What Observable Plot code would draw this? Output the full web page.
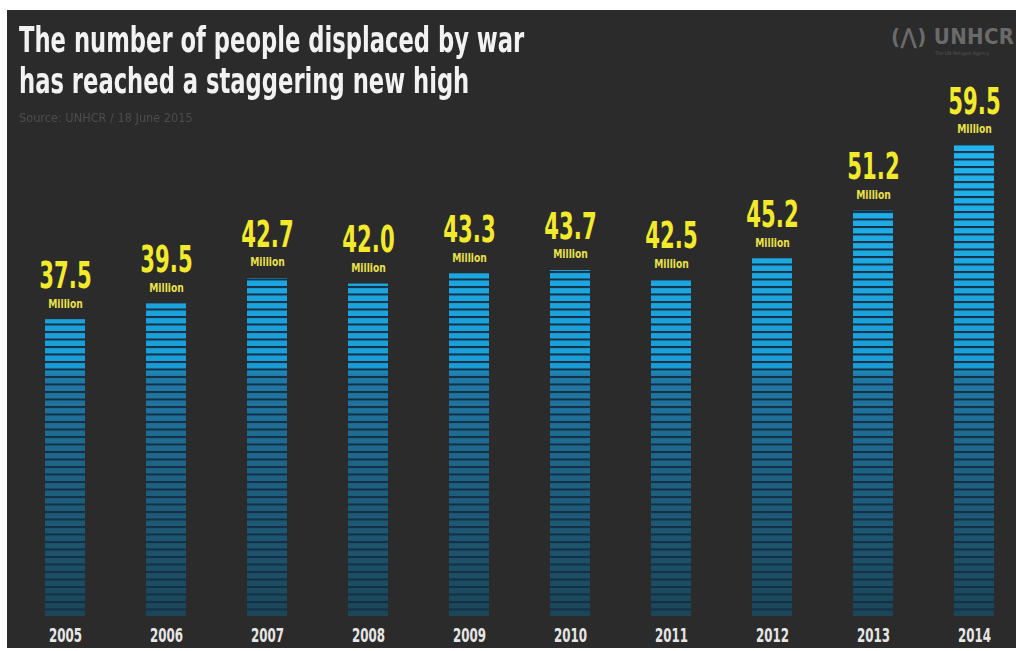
<!DOCTYPE html>
<html>
<head>
<meta charset="utf-8">
<script src="https://cdn.jsdelivr.net/npm/d3@7"></script>
<script src="https://cdn.jsdelivr.net/npm/@observablehq/plot@0.6"></script>
<style>
  html, body { margin: 0; padding: 0; background: #ffffff; }
  #frame {
    position: absolute; left: 7px; top: 10px; width: 1009px; height: 638px;
    background: #2b2b2b; overflow: hidden;
    font-family: "DejaVu Sans Condensed", "DejaVu Sans", sans-serif;
  }
  #title {
    position: absolute; left: 12px; top: 10px; margin: 0;
    color: #f2f2f2; font-size: 35px; font-weight: bold;
    transform: scaleX(0.72); transform-origin: 0 0; white-space: nowrap;
  }
  #title div { height: 41px; line-height: 41px; overflow: visible; }
  #source {
    position: absolute; left: 12px; top: 100px; color: #4d4d4d; font-size: 13px;
    transform: scaleX(0.97); transform-origin: 0 0; white-space: nowrap;
  }
  #logo {
    position: absolute; left: 884px; top: 14px; color: #6a6a6a; white-space: nowrap;
  }
  #logo .mark { font-size: 22px; font-weight: bold; letter-spacing: 0.3px; line-height: 26px; }
  #logo .sub { font-size: 5px; margin-left: 44px; color: #555; line-height: 6px; }
  #chart { position: absolute; left: 0; top: 0; }
</style>
</head>
<body>
<div id="frame">
  <div id="chart"></div>
  <div id="title"><div>The number of people displaced by war</div><div>has reached a staggering new high</div></div>
  <div id="source">Source: UNHCR / 18 June 2015</div>
  <div id="logo"><div class="mark">(⋀) UNHCR</div><div class="sub">The UN Refugee Agency</div></div>
</div>
<script>
const years = ["2005", "2006", "2007", "2008", "2009", "2010", "2011", "2012", "2013", "2014"];
const values = [37.5, 39.5, 42.7, 42.0, 43.3, 43.7, 42.5, 45.2, 51.2, 59.5];
const unitLabel = "Million";

const data = years.map((year, i) => ({year, value: values[i]}));
const font = "'DejaVu Sans Condensed', 'DejaVu Sans', sans-serif";

const chart = Plot.plot({
  width: 1009,
  height: 638,
  marginLeft: 27,
  marginRight: 11,
  marginTop: 135,
  marginBottom: 32,
  style: {background: "transparent", color: "#e6e6e6", fontFamily: font},
  x: {type: "band", domain: years, paddingInner: 0.605, paddingOuter: 0.1, label: null},
  y: {domain: [0, 59.5], axis: null},
  marks: [
    Plot.barY(data, {x: "year", y: "value", fill: "#152f44"}),
    Plot.barY(data, {x: "year", y: "value", fill: "url(#barGrad)"}),
    Plot.text(data, {x: "year", y: "value", text: d => d.value.toFixed(1), dy: -44,
      fill: "#f3ea2c", fontSize: 38, fontWeight: "bold"}),
    Plot.text(data, {x: "year", y: "value", text: () => unitLabel, dy: -16,
      fill: "#e9e14a", fontSize: 12, fontWeight: "bold"}),
    Plot.axisX({tickSize: 0, tickPadding: 11, fontSize: 20, fontWeight: "bold", fill: "#e6e6e6"})
  ]
});

document.getElementById("chart").appendChild(chart);

// condense text horizontally (narrow display face in the original)
function squeezeAll(nodes, sx) {
  nodes.forEach(t => {
    const tr = t.getAttribute("transform") || "";
    t.setAttribute("transform", tr + ` scale(${sx},1)`);
  });
}
const textGroups = chart.querySelectorAll('g[aria-label="text"]');
squeezeAll(textGroups[0].querySelectorAll("text"), 0.62);
squeezeAll(textGroups[1].querySelectorAll("text"), 0.85);
squeezeAll(chart.querySelectorAll('g[aria-label="x-axis tick label"] text'), 0.66);

const svg = d3.select(chart);
const yTop = chart.scale("y").apply(59.5);
const yBase = chart.scale("y").apply(0);
const defs = svg.insert("defs", ":first-child");
const grad = defs.append("linearGradient")
  .attr("id", "barGrad").attr("gradientUnits", "userSpaceOnUse")
  .attr("x1", 0).attr("x2", 0).attr("y1", yTop).attr("y2", yBase);
[[0, "#22b4ee"], [0.47, "#1a9dd6"], [0.49, "#1f7aa7"], [0.7, "#1e6284"], [1, "#1b4658"]]
  .forEach(([o, c]) => grad.append("stop").attr("offset", o).attr("stop-color", c));

const period = 7.5, stripe = 5.5;
const pat = defs.append("pattern").attr("id", "stripePat").attr("patternUnits", "userSpaceOnUse")
  .attr("x", 0).attr("y", yBase % period).attr("width", 1009).attr("height", period);
pat.append("rect").attr("x", 0).attr("y", period - stripe).attr("width", 1009).attr("height", stripe).attr("fill", "white");
const mask = defs.append("mask").attr("id", "stripeMask").attr("maskUnits", "userSpaceOnUse")
  .attr("x", 0).attr("y", 0).attr("width", 1009).attr("height", 638);
mask.append("rect").attr("x", 0).attr("y", 0).attr("width", 1009).attr("height", 638).attr("fill", "url(#stripePat)");

const bars = chart.querySelectorAll('g[aria-label="bar"]');
bars[1].setAttribute("mask", "url(#stripeMask)");
</script>
</body>
</html>
